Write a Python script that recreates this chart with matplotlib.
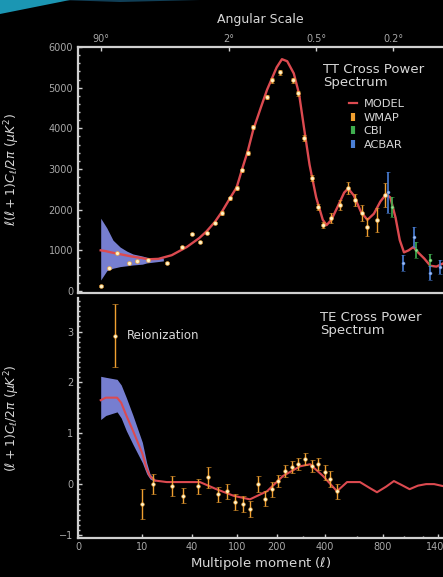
import numpy as np
import matplotlib
matplotlib.use("Agg")
import matplotlib.pyplot as plt
from matplotlib.lines import Line2D
from matplotlib.patches import Polygon
from matplotlib.ticker import MultipleLocator, FixedLocator

# ---- axis scale: multipole l -> horizontal position
L_KNOTS = [0, 2, 10, 40, 100, 200, 300, 400, 600, 800, 1000, 1200, 1400, 1600]
P_KNOTS = [78, 100.7, 141.7, 191.7, 236.7, 276.7, 303, 325, 357, 383, 404, 422.7, 438, 453]

# ---- TT panel
tt_model_l = [2, 3, 4, 6, 8, 10, 14, 20, 28, 37, 50, 60, 71, 80, 91, 100, 113, 128, 141, 160,
              176, 200, 220, 240, 265, 285, 305, 330, 360, 390, 410, 440, 480, 520, 545, 580,
              630, 680, 730, 780, 830, 870, 920, 960, 1000, 1050, 1100, 1150, 1220, 1300,
              1380, 1470]
tt_model = [1000, 980, 950, 900, 850, 810, 780, 790, 880, 1080, 1300, 1470, 1700, 1940, 2280,
            2550, 2980, 3450, 3950, 4500, 4950, 5500, 5700, 5650, 5350, 4850, 4000, 3100,
            2300, 1750, 1620, 1750, 2080, 2420, 2520, 2350, 1950, 1750, 1900, 2200, 2380,
            2300, 1800, 1250, 950, 1000, 1080, 950, 800, 620, 600, 680]
tt_band_l = [2, 3.2, 4.4, 5.8, 7.1, 8.3, 10.4, 13, 19, 23]
tt_band_hi = [1790, 1550, 1250, 1080, 980, 910, 860, 830, 800, 810]
tt_band_lo = [270, 500, 560, 600, 620, 640, 660, 690, 720, 740]

wmap_tt_l = [2, 3.6, 5.2, 7.5, 9, 13.5, 25, 34, 40, 51, 60, 71, 80, 91, 100, 113, 128, 141,
             176, 188, 213, 262, 280, 305, 340, 368, 392, 440, 494, 544, 590, 638, 677, 754, 815]
wmap_tt = [120, 560, 930, 690, 740, 760, 690, 1080, 1400, 1200, 1420, 1670, 1920, 2280, 2530,
           2970, 3390, 4030, 4770, 5180, 5380, 5180, 4860, 3760, 2780, 2060, 1620, 1790, 2110,
           2530, 2240, 1920, 1570, 1740, 2360]
wmap_tt_err = [30, 30, 30, 30, 30, 30, 30, 30, 30, 30, 30, 30, 40, 40, 40, 40, 50, 50, 60, 60,
               60, 60, 60, 70, 70, 80, 80, 120, 120, 150, 150, 200, 220, 300, 300]
cbi_l = [890, 1130, 1300]
cbi = [2060, 1000, 760]
cbi_err = [250, 200, 150]
acbar_l = [848, 990, 1110, 1300, 1430]
acbar = [2430, 690, 1330, 440, 590]
acbar_err = [500, 200, 250, 180, 180]

# ---- TE panel
te_model_l = [2, 3, 5.2, 6, 7, 8.3, 10.4, 13, 15, 18, 25, 35, 51, 73, 96, 133, 176, 224, 289,
              332, 391, 475, 538, 623, 700, 754, 830, 904, 980, 1060, 1150, 1245, 1350, 1470]
te_model = [1.65, 1.70, 1.70, 1.60, 1.35, 1.05, 0.60, 0.30, 0.15, 0.07, 0.04, 0.04, 0.04,
            -0.10, -0.23, -0.30, -0.14, 0.16, 0.35, 0.39, 0.16, -0.14, 0.04, 0.04, -0.08,
            -0.16, -0.05, 0.06, -0.02, -0.10, -0.03, 0.0, 0.0, -0.04]
te_band_l = [2, 3, 5.2, 6, 7, 8.3, 10.4, 13, 15, 18]
te_band_hi = [2.12, 2.10, 2.06, 1.95, 1.70, 1.35, 0.82, 0.42, 0.20, 0.09]
te_band_lo = [1.27, 1.35, 1.42, 1.30, 1.05, 0.78, 0.42, 0.20, 0.10, 0.05]

wmap_te_l = [10.4, 17, 28, 35, 48, 62, 75, 87, 98, 116, 133, 154, 171, 188, 205, 231, 258,
             281, 309, 340, 368, 400, 431, 475]
wmap_te = [-0.39, 0.0, -0.04, -0.23, -0.04, 0.13, -0.2, -0.14, -0.35, -0.39, -0.49, 0.0,
           -0.29, -0.1, 0.06, 0.25, 0.33, 0.39, 0.5, 0.35, 0.39, 0.23, 0.1, -0.14]
wmap_te_err = [0.3, 0.2, 0.2, 0.15, 0.15, 0.2, 0.15, 0.15, 0.15, 0.15, 0.15, 0.15, 0.15,
               0.15, 0.12, 0.12, 0.12, 0.12, 0.12, 0.12, 0.12, 0.15, 0.15, 0.15]
reion_l, reion, reion_err = 4.8, 2.92, 0.62

bottom_ticks = [0, 10, 40, 100, 200, 400, 800, 1400]
bottom_minor = [300, 600, 1000, 1200]
angle_ticks = [2, 90, 360, 900]
angle_labels = ['90°', '2°', '0.5°', '0.2°']

RED = '#dc4a50'
ORANGE = '#f0a030'
DOT = '#fff2c8'
BAND = '#7d86dc'
GREEN = '#3fae4f'
BLUE = '#4a7fd6'
TXT = '#d8d8d8'
TICK = '#a8a8a8'
SPINE = '#d0d0d0'


def fwd(l):
    return np.interp(l, L_KNOTS, P_KNOTS)


def inv(p):
    return np.interp(p, P_KNOTS, L_KNOTS)


def style(ax):
    ax.set_facecolor('black')
    ax.set_xscale('function', functions=(fwd, inv))
    ax.set_xlim(0, 1467)
    for s in ax.spines.values():
        s.set_color(SPINE)
        s.set_linewidth(1.6)
    ax.spines['right'].set_visible(False)
    ax.tick_params(which='both', direction='in', colors=SPINE, labelcolor=TICK,
                   labelsize=7, width=1)
    ax.tick_params(which='major', length=3)
    ax.tick_params(which='minor', length=1.5)


plt.rcParams['font.family'] = ['DejaVu Sans']
fig = plt.figure(figsize=(4.43, 5.77), dpi=100, facecolor='black')

# blue swoosh in the top-left corner of the slide
fig.add_artist(Polygon([[0, 1], [0, 1 - 14 / 577], [25 / 443, 1 - 9 / 577], [70 / 443, 1]],
                       closed=True, transform=fig.transFigure, color='#1fa8c8', alpha=0.9, lw=0))
fig.add_artist(Polygon([[60 / 443, 1], [120 / 443, 1 - 2 / 577], [200 / 443, 1]],
                       closed=True, transform=fig.transFigure, color='#15506e', alpha=0.8, lw=0))

ax1 = fig.add_axes([78 / 443, 1 - 292.7 / 577, 365 / 443, 245.7 / 577])
ax2 = fig.add_axes([78 / 443, 1 - 538 / 577, 365 / 443, 240 / 577])
style(ax1)
style(ax2)

# ---- TT
ax1.fill_between(tt_band_l, tt_band_lo, tt_band_hi, color=BAND, lw=0, alpha=0.95, zorder=1)
ax1.plot(tt_model_l, tt_model, color=RED, lw=1.7, zorder=2, solid_joinstyle='round')
ax1.errorbar(wmap_tt_l, wmap_tt, yerr=wmap_tt_err, fmt='o', ms=2.8, mfc=DOT, mec=ORANGE,
             mew=0.4, ecolor=ORANGE, elinewidth=1, capsize=1.5, zorder=3)
ax1.errorbar(cbi_l, cbi, yerr=cbi_err, fmt='o', ms=2.2, mfc='#a0d890', mec=GREEN, mew=0.4,
             ecolor=GREEN, elinewidth=1.2, capsize=1.5, zorder=3)
ax1.errorbar(acbar_l, acbar, yerr=acbar_err, fmt='o', ms=2.2, mfc='#a8c0f0', mec=BLUE, mew=0.4,
             ecolor=BLUE, elinewidth=1.2, capsize=1.5, zorder=3)
ax1.set_ylim(-42, 6000)
ax1.set_yticks(range(0, 6001, 1000))
ax1.yaxis.set_minor_locator(MultipleLocator(200))
ax1.xaxis.tick_top()
ax1.xaxis.set_label_position('top')
ax1.xaxis.set_major_locator(FixedLocator(angle_ticks))
ax1.xaxis.set_minor_locator(FixedLocator([]))
ax1.set_xticklabels(angle_labels)
ax1.tick_params(axis='x', pad=2)
ax1.set_xlabel('Angular Scale', color=TXT, fontsize=9, labelpad=8)
ax1.set_ylabel(r'$\ell(\ell+1)C_\ell/2\pi\ (\mu K^2)$', color=TXT, fontsize=9)
ax1.yaxis.set_label_coords(-0.153, 0.5)
ax1.text(0.672, 0.935, 'TT Cross Power\nSpectrum', transform=ax1.transAxes, color=TXT,
         fontsize=9.5, va='top', ha='left', linespacing=1.0)

handles = [
    Line2D([], [], color=RED, lw=1.6),
    Line2D([], [], color=ORANGE, marker='|', ms=6, mew=3, ls='none'),
    Line2D([], [], color=GREEN, marker='|', ms=6, mew=3, ls='none'),
    Line2D([], [], color=BLUE, marker='|', ms=6, mew=3, ls='none'),
]
leg = ax1.legend(handles, ['MODEL', 'WMAP', 'CBI', 'ACBAR'], loc='upper left',
                 bbox_to_anchor=(0.727, 0.812), frameon=False, fontsize=8.2, labelcolor=TXT,
                 handlelength=0.7, handletextpad=0.6, labelspacing=0.32, borderpad=0)

# ---- TE
ax2.fill_between(te_band_l, te_band_lo, te_band_hi, color=BAND, lw=0, alpha=0.95, zorder=1)
ax2.plot(te_model_l, te_model, color=RED, lw=1.5, zorder=2, solid_joinstyle='round')
ax2.errorbar(wmap_te_l, wmap_te, yerr=wmap_te_err, fmt='o', ms=2.6, mfc=DOT, mec=ORANGE,
             mew=0.4, ecolor=ORANGE, elinewidth=1, capsize=1.8, zorder=3)
ax2.errorbar([reion_l], [reion], yerr=[reion_err], fmt='o', ms=2.6, mfc=DOT, mec=ORANGE,
             mew=0.4, ecolor=ORANGE, elinewidth=1, capsize=2, zorder=3)
ax2.text(7.1, reion, 'Reionization', color=TXT, fontsize=8.5, va='center', ha='left')
ax2.spines['top'].set_visible(False)
ax2.set_ylim(-1.06, 3.66)
ax2.set_yticks([-1, 0, 1, 2, 3])
ax2.yaxis.set_minor_locator(MultipleLocator(0.1))
ax2.xaxis.set_major_locator(FixedLocator(bottom_ticks))
ax2.xaxis.set_minor_locator(FixedLocator(bottom_minor))
ax2.set_xticklabels([str(t) for t in bottom_ticks])
ax2.tick_params(axis='x', pad=3)
ax2.set_xlabel(r'Multipole moment ($\ell$)', color=TXT, fontsize=9.5, labelpad=2)
ax2.set_ylabel(r'$(\ell+1)C_\ell/2\pi\ (\mu K^2)$', color=TXT, fontsize=9)
ax2.yaxis.set_label_coords(-0.153, 0.5)
ax2.text(0.663, 0.945, 'TE Cross Power\nSpectrum', transform=ax2.transAxes, color=TXT,
         fontsize=9.5, va='top', ha='left', linespacing=1.0)

fig.savefig('out.png', dpi=100, facecolor='black')
